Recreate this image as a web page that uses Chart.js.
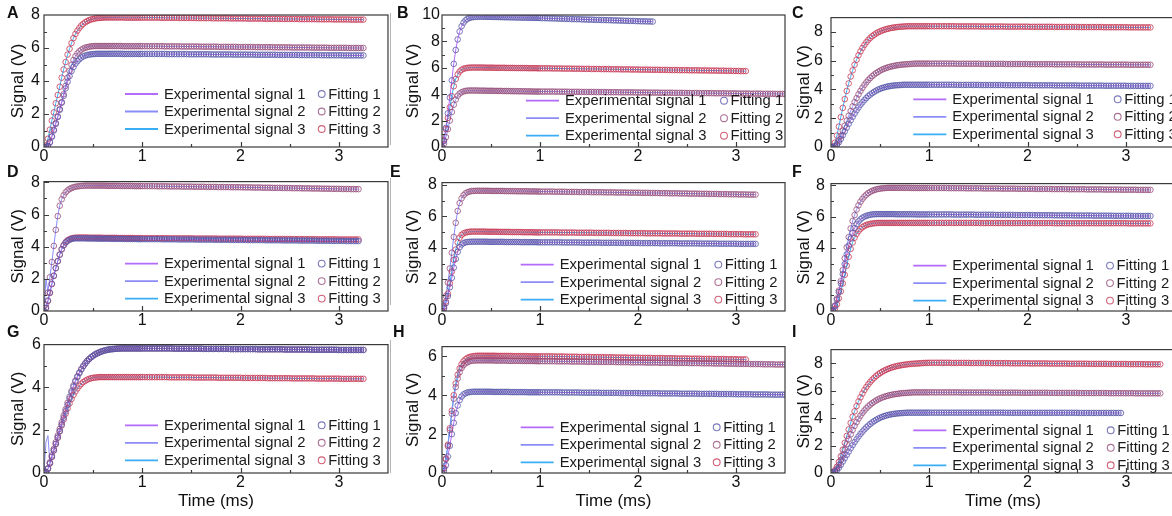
<!DOCTYPE html>
<html><head><meta charset="utf-8">
<script src="https://cdn.jsdelivr.net/npm/chart.js@4.4.0/dist/chart.umd.min.js"></script>
<style>
html,body{margin:0;padding:0;background:#fff;}
body{width:1172px;height:516px;overflow:hidden;position:relative;font-family:"Liberation Sans",Arial,sans-serif;}
.panel{position:absolute;}
.lbl{position:absolute;font-weight:bold;font-size:16px;line-height:16px;color:#111;}
.sep{position:absolute;width:1px;background:#b4b4b4;}
</style></head><body>
<script>
// ---------- shared time axis (ms) ----------
const TIME_MS = [
0,0.02,0.04,0.06,0.08,0.1,0.12,0.14,0.16,0.18,
0.2,0.22,0.24,0.26,0.28,0.3,0.32,0.34,0.36,0.38,
0.4,0.42,0.44,0.46,0.48,0.5,0.52,0.54,0.56,0.58,
0.6,0.62,0.64,0.66,0.68,0.7,0.72,0.74,0.76,0.78,
0.8,0.82,0.84,0.86,0.88,0.9,0.92,0.94,0.96,0.98,
1,
1.025,1.05,1.075,1.1,1.125,1.15,1.175,1.2,1.225,1.25,
1.275,1.3,1.325,1.35,1.375,1.4,1.425,1.45,1.475,1.5,
1.525,1.55,1.575,1.6,1.625,1.65,1.675,1.7,1.725,1.75,
1.775,1.8,1.825,1.85,1.875,1.9,1.925,1.95,1.975,2,
2.025,2.05,2.075,2.1,2.125,2.15,2.175,2.2,2.225,2.25,
2.275,2.3,2.325,2.35,2.375,2.4,2.425,2.45,2.475,2.5,
2.525,2.55,2.575,2.6,2.625,2.65,2.675,2.7,2.725,2.75,
2.775,2.8,2.825,2.85,2.875,2.9,2.925,2.95,2.975,3,
3.025,3.05,3.075,3.1,3.125,3.15,3.175,3.2,3.225,3.25,
3.275,3.3,3.325,3.35,3.375,3.4,3.425,3.45,3.475,3.5];

// ---------- Panel A ----------
const A_S1 = [
0,0,0.06,0.28,0.62,1.0,1.4,1.82,2.25,2.68,
3.1,3.55,3.95,4.3,4.6,4.85,5.05,5.2,5.32,5.42,
5.49,5.54,5.58,5.6,5.62,5.63,5.64,5.65,5.65,5.65,
5.65,5.65,5.65,5.65,5.65,5.65,5.65,5.65,5.65,5.65,
5.64,5.64,5.64,5.64,5.64,5.64,5.64,5.64,5.64,5.64,
5.64,
5.64,5.64,5.64,5.64,5.64,5.64,5.64,5.64,5.64,
5.63,5.63,5.63,5.63,5.63,5.63,5.63,5.63,5.63,
5.62,5.62,5.62,5.62,5.62,5.62,5.62,5.62,5.62,
5.61,5.61,5.61,5.61,5.61,5.61,5.61,5.61,5.61,
5.6,5.6,5.6,5.6,5.6,5.6,5.6,5.6,5.6,
5.59,5.59,5.59,5.59,5.59,5.59,5.59,5.59,5.59,
5.58,5.58,5.58,5.58,5.58,5.58,5.58,5.58,5.58,
5.57,5.57,5.57,5.57,5.57,5.57,5.57,5.57,5.57,
5.56,5.56,5.56,5.56,5.56,5.56,5.56,5.56,5.56,
5.55,5.55,5.55,5.55,5.55,5.55,5.55,5.55,5.55];
const A_S2 = [
0,0,0.08,0.3,0.65,1.05,1.45,1.85,2.3,2.72,
3.2,3.7,4.2,4.62,4.98,5.27,5.5,5.67,5.8,5.9,
5.97,6.02,6.05,6.08,6.1,6.11,6.12,6.12,6.12,6.12,
6.12,6.12,6.12,6.12,6.12,6.12,6.12,6.12,6.12,6.12,
6.11,6.11,6.11,6.11,6.11,6.11,6.11,6.11,6.11,6.11,
6.11,
6.11,6.11,6.11,6.11,6.11,6.11,6.11,6.11,
6.1,6.1,6.1,6.1,6.1,6.1,6.1,
6.09,6.09,6.09,6.09,6.09,6.09,6.09,6.09,
6.08,6.08,6.08,6.08,6.08,6.08,6.08,
6.07,6.07,6.07,6.07,6.07,6.07,6.07,6.07,
6.06,6.06,6.06,6.06,6.06,6.06,6.06,
6.05,6.05,6.05,6.05,6.05,6.05,6.05,6.05,
6.04,6.04,6.04,6.04,6.04,6.04,6.04,
6.03,6.03,6.03,6.03,6.03,6.03,6.03,6.03,
6.02,6.02,6.02,6.02,6.02,6.02,6.02,
6.01,6.01,6.01,6.01,6.01,6.01,6.01,6.01,
6.0,6.0,6.0,6.0,6.0,6.0,6.0];
const A_S3 = [
0,0.1,0.5,1.05,1.6,2.1,2.65,3.15,3.65,4.2,
4.7,5.15,5.6,5.95,6.3,6.6,6.85,7.05,7.22,7.36,
7.47,7.56,7.63,7.69,7.73,7.76,7.79,7.81,7.82,7.83,
7.84,7.85,7.85,7.85,7.85,7.85,7.85,7.85,7.85,7.85,
7.85,7.85,7.84,7.84,7.84,7.84,7.84,7.84,7.84,7.84,
7.84,
7.84,7.84,7.84,7.84,7.84,7.84,7.84,
7.83,7.83,7.83,7.83,7.83,7.83,7.83,
7.82,7.82,7.82,7.82,7.82,7.82,7.82,
7.81,7.81,7.81,7.81,7.81,7.81,7.81,
7.8,7.8,7.8,7.8,7.8,7.8,7.8,
7.79,7.79,7.79,7.79,7.79,7.79,7.79,
7.78,7.78,7.78,7.78,7.78,7.78,7.78,
7.77,7.77,7.77,7.77,7.77,7.77,7.77,
7.76,7.76,7.76,7.76,7.76,7.76,7.76,
7.75,7.75,7.75,7.75,7.75,7.75,7.75,
7.74,7.74,7.74,7.74,7.74,7.74,7.74,
7.73,7.73,7.73,7.73,7.73,7.73,7.73,
7.72,7.72,7.72,7.72,7.72,7.72];

// ---------- Panel B ----------
const B_S1 = [
0,0.45,1.45,2.55,3.75,5.05,6.3,7.35,8.15,8.75,
9.15,9.42,9.6,9.71,9.78,9.82,9.84,9.86,9.87,9.87,
9.87,9.87,9.87,9.86,9.86,9.86,9.85,9.85,9.85,9.84,
9.84,9.84,9.83,9.83,9.83,9.82,9.82,9.82,9.81,9.81,
9.81,9.8,9.8,9.8,9.79,9.79,9.79,9.78,9.78,9.78,
9.77,
9.76,9.76,9.75,9.75,9.74,9.74,9.73,9.72,9.72,9.71,
9.7,9.7,9.69,9.69,9.68,9.68,9.67,9.66,9.66,9.65,
9.65,9.64,9.63,9.63,9.62,9.62,9.61,9.61,9.6,9.59,
9.59,9.58,9.58,9.57,9.56,9.56,9.55,9.55,9.54,9.53,
9.53,9.52,9.52,9.51,9.51,9.5];
const B_S2 = [
0,0.25,0.75,1.35,2.0,2.65,3.2,3.6,3.88,4.05,
4.15,4.21,4.25,4.27,4.28,4.28,4.28,4.28,4.28,4.27,
4.27,4.27,4.27,4.26,4.26,4.26,4.26,4.25,4.25,4.25,
4.25,4.24,4.24,4.24,4.24,4.23,4.23,4.23,4.23,4.22,
4.22,4.22,4.22,4.21,4.21,4.21,4.21,4.2,4.2,4.2,
4.2,
4.2,4.2,4.2,4.2,4.2,4.2,
4.19,4.19,4.19,4.19,4.19,
4.18,4.18,4.18,4.18,4.18,
4.17,4.17,4.17,4.17,4.17,4.17,
4.16,4.16,4.16,4.16,4.16,
4.15,4.15,4.15,4.15,4.15,
4.14,4.14,4.14,4.14,4.14,4.14,
4.13,4.13,4.13,4.13,4.13,
4.12,4.12,4.12,4.12,4.12,
4.11,4.11,4.11,4.11,4.11,4.11,
4.1,4.1,4.1,4.1,4.1,
4.09,4.09,4.09,4.09,4.09,
4.08,4.08,4.08,4.08,4.08,4.08,
4.07,4.07,4.07,4.07,4.07,
4.06,4.06,4.06,4.06,4.06,
4.05,4.05,4.05,4.05,4.05,
4.04,4.04,4.04,4.04,4.04,
4.03,4.03,4.03,4.03,4.03,
4.02,4.02,4.02,4.02,4.02];
const B_S3 = [
0,0.5,1.35,2.2,3.0,3.85,4.6,5.15,5.5,5.72,
5.85,5.93,5.97,6.0,6.01,6.02,6.02,6.02,6.02,6.02,
6.02,6.02,6.01,6.01,6.01,6.01,6.01,6.0,6.0,6.0,
6.0,6.0,6.0,5.99,5.99,5.99,5.99,5.99,5.98,5.98,
5.98,5.98,5.98,5.98,5.97,5.97,5.97,5.97,5.97,5.96,
5.96,
5.96,5.96,5.96,5.96,
5.95,5.95,5.95,5.95,
5.94,5.94,5.94,5.94,
5.93,5.93,5.93,5.93,
5.92,5.92,5.92,5.92,
5.91,5.91,5.91,5.91,
5.9,5.9,5.9,5.9,
5.89,5.89,5.89,5.89,
5.88,5.88,5.88,5.88,
5.87,5.87,5.87,5.87,
5.86,5.86,5.86,5.86,
5.85,5.85,5.85,5.85,
5.84,5.84,5.84,5.84,
5.83,5.83,5.83,5.83,
5.82,5.82,5.82,5.82,
5.81,5.81,5.81,5.81,
5.8,5.8,5.8,5.8,
5.79,5.79,5.79,5.79,
5.78,5.78,5.78,
5.77,5.77,5.77,
5.76,5.76,5.76,
5.75,5.75,5.75];

// ---------- Panel C ----------
const C_S1 = [
0,0,0.04,0.15,0.33,0.56,0.82,1.08,1.35,1.61,
1.86,2.1,2.33,2.55,2.75,2.94,3.11,3.27,3.41,3.54,
3.65,3.75,3.84,3.92,3.99,4.05,4.1,4.14,4.18,4.21,
4.24,4.26,4.28,4.29,4.3,4.31,4.32,4.33,4.33,4.33,
4.33,4.33,4.33,4.33,4.33,4.33,4.33,4.33,4.33,4.33,
4.33,
4.33,4.33,4.33,4.33,4.33,4.33,4.33,4.33,4.33,4.33,
4.32,4.32,4.32,4.32,4.32,4.32,4.32,4.32,4.32,4.32,
4.31,4.31,4.31,4.31,4.31,4.31,4.31,4.31,4.31,4.31,
4.3,4.3,4.3,4.3,4.3,4.3,4.3,4.3,4.3,4.3,
4.29,4.29,4.29,4.29,4.29,4.29,4.29,4.29,4.29,4.29,
4.28,4.28,4.28,4.28,4.28,4.28,4.28,4.28,4.28,4.28,
4.27,4.27,4.27,4.27,4.27,4.27,4.27,4.27,4.27,4.27,
4.26,4.26,4.26,4.26,4.26,4.26,4.26,4.26,4.26,4.26,
4.25,4.25,4.25,4.25,4.25,4.25,4.25,4.25,4.25,4.25];
const C_S2 = [
0,0,0.05,0.2,0.45,0.77,1.12,1.48,1.83,2.17,
2.5,2.82,3.12,3.4,3.66,3.9,4.12,4.32,4.5,4.66,
4.8,4.93,5.04,5.14,5.23,5.31,5.38,5.44,5.49,5.54,
5.58,5.61,5.64,5.67,5.69,5.71,5.73,5.74,5.75,5.76,
5.77,5.78,5.79,5.8,5.8,5.8,5.8,5.8,5.8,5.8,
5.8,
5.8,5.8,5.8,5.8,5.8,5.8,5.8,5.8,5.8,5.8,
5.79,5.79,5.79,5.79,5.79,5.79,5.79,5.79,5.79,5.79,
5.78,5.78,5.78,5.78,5.78,5.78,5.78,5.78,5.78,5.78,
5.77,5.77,5.77,5.77,5.77,5.77,5.77,5.77,5.77,5.77,
5.76,5.76,5.76,5.76,5.76,5.76,5.76,5.76,5.76,5.76,
5.75,5.75,5.75,5.75,5.75,5.75,5.75,5.75,5.75,5.75,
5.74,5.74,5.74,5.74,5.74,5.74,5.74,5.74,5.74,5.74,
5.73,5.73,5.73,5.73,5.73,5.73,5.73,5.73,5.73,5.73,
5.72,5.72,5.72,5.72,5.72,5.72,5.72,5.72,5.72,5.72];
const C_S3 = [
0,0,0.3,0.8,1.42,2.08,2.72,3.33,3.9,4.42,
4.9,5.33,5.72,6.07,6.38,6.65,6.89,7.1,7.29,7.45,
7.59,7.71,7.81,7.9,7.98,8.04,8.1,8.15,8.19,8.23,
8.26,8.29,8.31,8.33,8.35,8.36,8.37,8.38,8.39,8.4,
8.4,8.4,8.4,8.4,8.4,8.4,8.4,8.4,8.4,8.4,
8.4,
8.4,8.4,8.4,8.4,8.4,8.4,8.4,8.4,8.4,8.4,
8.39,8.39,8.39,8.39,8.39,8.39,8.39,8.39,8.39,8.39,
8.38,8.38,8.38,8.38,8.38,8.38,8.38,8.38,8.38,8.38,
8.37,8.37,8.37,8.37,8.37,8.37,8.37,8.37,8.37,8.37,
8.36,8.36,8.36,8.36,8.36,8.36,8.36,8.36,8.36,8.36,
8.35,8.35,8.35,8.35,8.35,8.35,8.35,8.35,8.35,8.35,
8.34,8.34,8.34,8.34,8.34,8.34,8.34,8.34,8.34,8.34,
8.33,8.33,8.33,8.33,8.33,8.33,8.33,8.33,8.33,8.33,
8.32,8.32,8.32,8.32,8.32,8.32,8.32,8.32,8.32,8.32];

// ---------- Panel D ----------
const D_S1 = [
0,0.2,0.65,1.15,1.7,2.2,2.67,3.1,3.5,3.83,
4.08,4.25,4.36,4.43,4.48,4.51,4.52,4.52,4.52,4.52,
4.52,4.52,4.51,4.51,4.51,4.51,4.51,4.5,4.5,4.5,
4.5,4.5,4.5,4.5,4.49,4.49,4.49,4.49,4.49,4.49,
4.49,4.48,4.48,4.48,4.48,4.48,4.48,4.48,4.47,4.47,
4.47,
4.47,4.47,4.47,4.47,4.47,4.47,4.47,
4.46,4.46,4.46,4.46,4.46,4.46,4.46,
4.45,4.45,4.45,4.45,4.45,4.45,4.45,
4.44,4.44,4.44,4.44,4.44,4.44,4.44,
4.43,4.43,4.43,4.43,4.43,4.43,4.43,
4.42,4.42,4.42,4.42,4.42,4.42,4.42,
4.41,4.41,4.41,4.41,4.41,4.41,4.41,
4.4,4.4,4.4,4.4,4.4,4.4,4.4,
4.39,4.39,4.39,4.39,4.39,4.39,4.39,
4.38,4.38,4.38,4.38,4.38,4.38,4.38,
4.37,4.37,4.37,4.37,4.37,4.37,
4.36,4.36,4.36,4.36,4.36,4.36,
4.35,4.35,4.35,4.35,4.35,4.35];
const D_S2 = [
0,0.4,1.15,2.1,3.05,4.05,5.05,5.9,6.55,6.95,
7.2,7.38,7.5,7.59,7.65,7.7,7.73,7.75,7.77,7.78,
7.79,7.8,7.8,7.8,7.8,7.8,7.8,7.8,7.8,7.8,
7.8,7.8,7.79,7.79,7.79,7.79,7.79,7.79,7.79,7.78,
7.78,7.78,7.78,7.78,7.78,7.78,7.77,7.77,7.77,7.77,
7.77,
7.77,7.77,7.77,7.77,7.77,
7.76,7.76,7.76,7.76,7.76,
7.75,7.75,7.75,7.75,7.75,
7.74,7.74,7.74,7.74,7.74,
7.73,7.73,7.73,7.73,7.73,
7.72,7.72,7.72,7.72,7.72,
7.71,7.71,7.71,7.71,7.71,
7.7,7.7,7.7,7.7,7.7,
7.69,7.69,7.69,7.69,
7.68,7.68,7.68,7.68,
7.67,7.67,7.67,7.67,
7.66,7.66,7.66,7.66,
7.65,7.65,7.65,7.65,
7.64,7.64,7.64,7.64,
7.63,7.63,7.63,7.63,
7.62,7.62,7.62,7.62,
7.61,7.61,7.61,7.61,
7.6,7.6,7.6,7.6,
7.59,7.59,7.59,7.59,
7.58,7.58,7.58,7.58];
const D_S3 = [
0,0.18,0.62,1.12,1.67,2.18,2.66,3.1,3.51,3.85,
4.1,4.28,4.4,4.47,4.52,4.55,4.56,4.57,4.57,4.57,
4.57,4.57,4.57,4.56,4.56,4.56,4.56,4.56,4.56,4.56,
4.55,4.55,4.55,4.55,4.55,4.55,4.55,4.55,4.54,4.54,
4.54,4.54,4.54,4.54,4.54,4.54,4.53,4.53,4.53,4.53,
4.53,
4.53,4.53,4.53,4.53,4.53,4.53,4.53,4.53,4.53,4.53,
4.52,4.52,4.52,4.52,4.52,4.52,4.52,4.52,4.52,4.52,
4.51,4.51,4.51,4.51,4.51,4.51,4.51,4.51,4.51,4.51,
4.5,4.5,4.5,4.5,4.5,4.5,4.5,4.5,4.5,4.5,
4.49,4.49,4.49,4.49,4.49,4.49,4.49,4.49,4.49,4.49,
4.48,4.48,4.48,4.48,4.48,4.48,4.48,4.48,4.48,4.48,
4.47,4.47,4.47,4.47,4.47,4.47,4.47,4.47,4.47,4.47,
4.46,4.46,4.46,4.46,4.46,4.46,4.46,4.46,4.46,
4.45,4.45,4.45,4.45,4.45,4.45,4.45,4.45,4.45];
const D_EXP2_START = [0, 2.0, 1.2];

// ---------- Panel E ----------
const E_S1 = [
0,0.15,0.5,0.95,1.5,2.1,2.75,3.3,3.75,4.05,
4.22,4.31,4.36,4.38,4.39,4.4,4.4,4.4,4.4,4.4,
4.4,4.4,4.4,4.4,4.39,4.39,4.39,4.39,4.39,4.39,
4.39,4.39,4.38,4.38,4.38,4.38,4.38,4.38,4.38,4.38,
4.37,4.37,4.37,4.37,4.37,4.37,4.37,4.37,4.37,4.36,
4.36,
4.36,4.36,4.36,4.36,4.36,4.36,4.36,4.36,
4.35,4.35,4.35,4.35,4.35,4.35,4.35,4.35,
4.34,4.34,4.34,4.34,4.34,4.34,4.34,4.34,
4.33,4.33,4.33,4.33,4.33,4.33,4.33,4.33,
4.32,4.32,4.32,4.32,4.32,4.32,4.32,4.32,
4.31,4.31,4.31,4.31,4.31,4.31,4.31,4.31,
4.3,4.3,4.3,4.3,4.3,4.3,4.3,4.3,
4.29,4.29,4.29,4.29,4.29,4.29,4.29,4.29,
4.28,4.28,4.28,4.28,4.28,4.28,4.28,4.28,
4.27,4.27,4.27,4.27,4.27,4.27,4.27,4.27,
4.26,4.26,4.26,4.26,4.26,4.26,4.26,4.26];
const E_S2 = [
0,0.3,0.95,1.8,2.7,3.7,4.7,5.6,6.35,6.85,
7.15,7.35,7.47,7.54,7.58,7.61,7.62,7.63,7.63,7.63,
7.63,7.63,7.63,7.63,7.63,7.62,7.62,7.62,7.62,7.62,
7.62,7.62,7.61,7.61,7.61,7.61,7.61,7.61,7.6,7.6,
7.6,7.6,7.6,7.6,7.59,7.59,7.59,7.59,7.59,7.58,
7.58,
7.58,7.58,7.58,7.58,7.58,
7.57,7.57,7.57,7.57,7.57,
7.56,7.56,7.56,7.56,7.56,
7.55,7.55,7.55,7.55,7.55,
7.54,7.54,7.54,7.54,7.54,
7.53,7.53,7.53,7.53,7.53,
7.52,7.52,7.52,7.52,7.52,
7.51,7.51,7.51,7.51,7.51,
7.5,7.5,7.5,7.5,
7.49,7.49,7.49,7.49,
7.48,7.48,7.48,7.48,
7.47,7.47,7.47,7.47,
7.46,7.46,7.46,7.46,
7.45,7.45,7.45,7.45,
7.44,7.44,7.44,7.44,
7.43,7.43,7.43,7.43,
7.42,7.42,7.42,7.42,
7.41,7.41,7.41,7.41,
7.4,7.4,7.4,7.4,
7.39,7.39,7.39,7.39];
const E_S3 = [
0,0.2,0.6,1.1,1.75,2.5,3.25,3.9,4.35,4.65,
4.83,4.93,4.98,5.01,5.03,5.04,5.04,5.04,5.04,5.04,
5.04,5.04,5.04,5.03,5.03,5.03,5.03,5.03,5.03,5.02,
5.02,5.02,5.02,5.02,5.02,5.01,5.01,5.01,5.01,5.01,
5.01,5.0,5.0,5.0,5.0,5.0,5.0,4.99,4.99,4.99,
4.99,
4.99,4.99,4.99,4.99,4.99,4.99,4.99,
4.98,4.98,4.98,4.98,4.98,4.98,4.98,
4.97,4.97,4.97,4.97,4.97,4.97,4.97,
4.96,4.96,4.96,4.96,4.96,4.96,4.96,
4.95,4.95,4.95,4.95,4.95,4.95,4.95,
4.94,4.94,4.94,4.94,4.94,4.94,4.94,
4.93,4.93,4.93,4.93,4.93,4.93,4.93,
4.92,4.92,4.92,4.92,4.92,4.92,4.92,
4.91,4.91,4.91,4.91,4.91,4.91,4.91,
4.9,4.9,4.9,4.9,4.9,4.9,4.9,
4.89,4.89,4.89,4.89,4.89,4.89,
4.88,4.88,4.88,4.88,4.88,4.88,
4.87,4.87,4.87,4.87,4.87,4.87];

// ---------- Panel F ----------
const F_S1 = [
0,0.03,0.3,0.72,1.2,1.75,2.35,2.98,3.6,4.15,
4.6,4.98,5.28,5.52,5.7,5.83,5.93,6.0,6.05,6.09,
6.12,6.14,6.15,6.16,6.16,6.16,6.16,6.16,6.16,6.16,
6.16,6.16,6.16,6.15,6.15,6.15,6.15,6.15,6.15,6.15,
6.15,6.15,6.15,6.14,6.14,6.14,6.14,6.14,6.14,6.14,
6.14,
6.14,6.14,6.14,6.14,6.14,6.14,6.14,6.14,6.14,
6.13,6.13,6.13,6.13,6.13,6.13,6.13,6.13,6.13,
6.12,6.12,6.12,6.12,6.12,6.12,6.12,6.12,
6.11,6.11,6.11,6.11,6.11,6.11,6.11,6.11,
6.1,6.1,6.1,6.1,6.1,6.1,6.1,6.1,
6.09,6.09,6.09,6.09,6.09,6.09,6.09,6.09,
6.08,6.08,6.08,6.08,6.08,6.08,6.08,6.08,
6.07,6.07,6.07,6.07,6.07,6.07,6.07,6.07,
6.06,6.06,6.06,6.06,6.06,6.06,6.06,6.06,
6.05,6.05,6.05,6.05,6.05,6.05,6.05,6.05,
6.04,6.04,6.04,6.04,6.04,6.04,6.04,6.04];
const F_S2 = [
0,0.05,0.35,0.8,1.3,1.9,2.6,3.35,4.05,4.7,
5.25,5.72,6.1,6.45,6.72,6.95,7.13,7.28,7.4,7.5,
7.58,7.64,7.69,7.73,7.76,7.78,7.8,7.81,7.82,7.83,
7.83,7.83,7.83,7.83,7.83,7.83,7.83,7.83,7.83,7.83,
7.83,7.82,7.82,7.82,7.82,7.82,7.82,7.82,7.82,7.82,
7.82,
7.82,7.82,7.82,7.82,7.82,7.82,7.82,
7.81,7.81,7.81,7.81,7.81,7.81,7.81,
7.8,7.8,7.8,7.8,7.8,7.8,7.8,
7.79,7.79,7.79,7.79,7.79,7.79,7.79,
7.78,7.78,7.78,7.78,7.78,7.78,7.78,
7.77,7.77,7.77,7.77,7.77,7.77,7.77,
7.76,7.76,7.76,7.76,7.76,7.76,7.76,
7.75,7.75,7.75,7.75,7.75,7.75,7.75,
7.74,7.74,7.74,7.74,7.74,7.74,7.74,
7.73,7.73,7.73,7.73,7.73,7.73,7.73,
7.72,7.72,7.72,7.72,7.72,7.72,7.72,
7.71,7.71,7.71,7.71,7.71,7.71,7.71,
7.7,7.7,7.7,7.7,7.7,7.7];
const F_S3 = [
0,0,0.15,0.42,0.8,1.25,1.75,2.3,2.88,3.45,
3.95,4.35,4.66,4.9,5.08,5.22,5.33,5.41,5.47,5.51,
5.54,5.56,5.58,5.59,5.6,5.6,5.6,5.6,5.6,5.6,
5.6,5.6,5.6,5.6,5.6,5.6,5.6,5.6,5.6,5.6,
5.6,5.6,5.6,5.6,5.6,5.6,5.6,5.6,5.6,5.6,
5.6,
5.6,5.6,5.6,5.6,5.6,5.6,5.6,5.6,5.6,5.6,
5.6,5.6,5.6,5.6,5.6,5.6,5.6,5.6,5.6,5.6,
5.59,5.59,5.59,5.59,5.59,5.59,5.59,5.59,5.59,5.59,
5.59,5.59,5.59,5.59,5.59,5.59,5.59,5.59,5.59,5.59,
5.59,5.59,5.59,5.59,5.59,5.59,5.59,5.59,5.59,5.59,
5.58,5.58,5.58,5.58,5.58,5.58,5.58,5.58,5.58,5.58,
5.58,5.58,5.58,5.58,5.58,5.58,5.58,5.58,5.58,5.58,
5.58,5.58,5.58,5.58,5.58,5.58,5.58,5.58,5.58,5.58,
5.57,5.57,5.57,5.57,5.57,5.57,5.57,5.57,5.57,5.57];

// ---------- Panel G ----------
const G_S1 = [
0,0.05,0.2,0.45,0.76,1.06,1.36,1.66,1.96,2.27,
2.58,2.88,3.18,3.48,3.76,4.03,4.27,4.48,4.67,4.84,
4.99,5.12,5.23,5.33,5.41,5.48,5.54,5.59,5.63,5.67,
5.7,5.73,5.75,5.77,5.78,5.79,5.8,5.81,5.81,5.82,
5.82,5.82,5.82,5.82,5.82,5.82,5.82,5.82,5.82,5.82,
5.82,
5.82,5.82,5.82,5.82,5.82,5.82,5.82,5.82,5.82,5.82,5.82,5.82,
5.81,5.81,5.81,5.81,5.81,5.81,5.81,5.81,5.81,5.81,5.81,5.81,
5.8,5.8,5.8,5.8,5.8,5.8,5.8,5.8,5.8,5.8,5.8,
5.79,5.79,5.79,5.79,5.79,5.79,5.79,5.79,5.79,5.79,5.79,
5.78,5.78,5.78,5.78,5.78,5.78,5.78,5.78,5.78,5.78,5.78,
5.77,5.77,5.77,5.77,5.77,5.77,5.77,5.77,5.77,5.77,5.77,
5.76,5.76,5.76,5.76,5.76,5.76,5.76,5.76,5.76,5.76,5.76,
5.75,5.75,5.75,5.75,5.75,5.75,5.75,5.75,5.75,5.75,5.75];
const G_S2 = [
0,0.05,0.22,0.5,0.82,1.13,1.44,1.75,2.06,2.37,
2.68,2.98,3.28,3.56,3.83,4.09,4.32,4.52,4.7,4.86,
5.0,5.13,5.24,5.33,5.41,5.48,5.54,5.59,5.63,5.67,
5.7,5.73,5.75,5.77,5.78,5.79,5.8,5.81,5.81,5.82,
5.82,5.82,5.82,5.82,5.82,5.82,5.82,5.82,5.82,5.82,
5.82,
5.82,5.82,5.82,5.82,5.82,5.82,5.82,5.82,5.82,5.82,5.82,5.82,
5.81,5.81,5.81,5.81,5.81,5.81,5.81,5.81,5.81,5.81,5.81,5.81,
5.8,5.8,5.8,5.8,5.8,5.8,5.8,5.8,5.8,5.8,5.8,
5.79,5.79,5.79,5.79,5.79,5.79,5.79,5.79,5.79,5.79,5.79,
5.78,5.78,5.78,5.78,5.78,5.78,5.78,5.78,5.78,5.78,5.78,
5.77,5.77,5.77,5.77,5.77,5.77,5.77,5.77,5.77,5.77,5.77,
5.76,5.76,5.76,5.76,5.76,5.76,5.76,5.76,5.76,5.76,5.76,
5.75,5.75,5.75,5.75,5.75,5.75,5.75,5.75,5.75,5.75,5.75];
const G_S3 = [
0,0.05,0.2,0.45,0.75,1.05,1.35,1.65,1.94,2.23,
2.5,2.77,3.02,3.25,3.46,3.65,3.81,3.95,4.07,4.17,
4.25,4.31,4.36,4.4,4.43,4.45,4.46,4.47,4.48,4.48,
4.48,4.48,4.48,4.48,4.48,4.48,4.48,4.48,4.48,4.48,
4.48,4.48,4.48,4.48,4.48,4.48,4.48,4.48,4.48,4.48,
4.48,
4.48,4.48,4.48,4.48,4.48,4.48,4.48,4.48,4.48,4.48,
4.47,4.47,4.47,4.47,4.47,4.47,4.47,4.47,4.47,4.47,
4.46,4.46,4.46,4.46,4.46,4.46,4.46,4.46,4.46,4.46,
4.45,4.45,4.45,4.45,4.45,4.45,4.45,4.45,4.45,4.45,
4.44,4.44,4.44,4.44,4.44,4.44,4.44,4.44,4.44,4.44,
4.43,4.43,4.43,4.43,4.43,4.43,4.43,4.43,4.43,4.43,
4.42,4.42,4.42,4.42,4.42,4.42,4.42,4.42,4.42,4.42,
4.41,4.41,4.41,4.41,4.41,4.41,4.41,4.41,4.41,4.41,
4.4,4.4,4.4,4.4,4.4,4.4,4.4,4.4,4.4,4.4];
const G_EXP2_START = [0, 1.45, 1.75];

// ---------- Panel H ----------
const H_S1 = [
0,0.1,0.4,0.85,1.4,2.0,2.58,3.08,3.47,3.75,
3.93,4.04,4.1,4.14,4.16,4.17,4.18,4.18,4.18,4.18,
4.18,4.18,4.18,4.18,4.18,4.18,4.17,4.17,4.17,4.17,
4.17,4.17,4.17,4.17,4.17,4.16,4.16,4.16,4.16,4.16,
4.16,4.16,4.16,4.16,4.15,4.15,4.15,4.15,4.15,4.15,
4.15,
4.15,4.15,4.15,4.15,4.15,4.15,4.15,4.15,
4.14,4.14,4.14,4.14,4.14,4.14,4.14,4.14,
4.13,4.13,4.13,4.13,4.13,4.13,4.13,4.13,
4.12,4.12,4.12,4.12,4.12,4.12,4.12,4.12,
4.11,4.11,4.11,4.11,4.11,4.11,4.11,4.11,
4.1,4.1,4.1,4.1,4.1,4.1,4.1,4.1,
4.09,4.09,4.09,4.09,4.09,4.09,4.09,4.09,
4.08,4.08,4.08,4.08,4.08,4.08,4.08,4.08,
4.07,4.07,4.07,4.07,4.07,4.07,4.07,4.07,
4.06,4.06,4.06,4.06,4.06,4.06,4.06,
4.05,4.05,4.05,4.05,4.05,4.05,4.05,
4.04,4.04,4.04,4.04,4.04,4.04,4.04,
4.03,4.03,4.03,4.03,4.03,4.03,4.03];
const H_S2 = [
0,0.22,0.7,1.38,2.2,3.05,3.82,4.42,4.86,5.18,
5.4,5.55,5.64,5.7,5.74,5.77,5.78,5.79,5.79,5.79,
5.79,5.79,5.79,5.79,5.79,5.79,5.79,5.78,5.78,5.78,
5.78,5.78,5.78,5.78,5.77,5.77,5.77,5.77,5.77,5.77,
5.77,5.76,5.76,5.76,5.76,5.76,5.76,5.76,5.75,5.75,
5.75,
5.75,5.75,5.75,5.75,5.75,5.75,
5.74,5.74,5.74,5.74,5.74,5.74,
5.73,5.73,5.73,5.73,5.73,5.73,
5.72,5.72,5.72,5.72,5.72,5.72,
5.71,5.71,5.71,5.71,5.71,5.71,
5.7,5.7,5.7,5.7,5.7,5.7,
5.69,5.69,5.69,5.69,5.69,5.69,
5.68,5.68,5.68,5.68,5.68,5.68,
5.67,5.67,5.67,5.67,5.67,5.67,
5.66,5.66,5.66,5.66,5.66,5.66,
5.65,5.65,5.65,5.65,5.65,
5.64,5.64,5.64,5.64,5.64,
5.63,5.63,5.63,5.63,5.63,
5.62,5.62,5.62,5.62,5.62,
5.61,5.61,5.61,5.61,5.61,
5.6,5.6,5.6,5.6,5.6,
5.59,5.59,5.59,5.59,5.59,
5.58,5.58,5.58,5.58,5.58];
const H_S3 = [
0,0.25,0.75,1.45,2.3,3.2,4.0,4.6,5.05,5.38,
5.6,5.75,5.85,5.92,5.96,5.99,6.01,6.02,6.03,6.03,
6.03,6.03,6.03,6.03,6.03,6.03,6.03,6.03,6.02,6.02,
6.02,6.02,6.02,6.02,6.02,6.02,6.01,6.01,6.01,6.01,
6.01,6.01,6.01,6.01,6.0,6.0,6.0,6.0,6.0,6.0,
6.0,
6.0,6.0,6.0,6.0,6.0,
5.99,5.99,5.99,5.99,5.99,
5.98,5.98,5.98,5.98,5.98,
5.97,5.97,5.97,5.97,5.97,
5.96,5.96,5.96,5.96,5.96,
5.95,5.95,5.95,5.95,5.95,
5.94,5.94,5.94,5.94,5.94,
5.93,5.93,5.93,5.93,5.93,
5.92,5.92,5.92,5.92,5.92,
5.91,5.91,5.91,5.91,5.91,
5.9,5.9,5.9,5.9,5.9,
5.89,5.89,5.89,5.89,5.89,
5.88,5.88,5.88,5.88,5.88,
5.87,5.87,5.87,5.87,5.87,
5.86,5.86,5.86,5.86,5.86,
5.85,5.85,5.85,5.85,5.85,
5.84,5.84,5.84,5.84];

// ---------- Panel I ----------
const I_S1 = [
0,0.02,0.08,0.2,0.38,0.6,0.84,1.08,1.32,1.56,
1.8,2.03,2.25,2.46,2.66,2.85,3.02,3.18,3.33,3.46,
3.58,3.69,3.79,3.88,3.96,4.03,4.09,4.14,4.19,4.23,
4.26,4.29,4.31,4.33,4.35,4.36,4.37,4.38,4.39,4.4,
4.4,4.4,4.4,4.4,4.4,4.4,4.4,4.4,4.4,4.4,
4.4,
4.4,4.4,4.4,4.4,4.4,4.4,4.4,4.4,4.4,4.4,
4.4,4.4,4.4,4.4,4.4,4.4,4.4,4.4,4.4,4.4,
4.4,4.4,4.4,4.4,4.4,4.4,4.4,4.4,4.4,4.4,
4.39,4.39,4.39,4.39,4.39,4.39,4.39,4.39,4.39,4.39,
4.39,4.39,4.39,4.39,4.39,4.39,4.39,4.39,4.39,4.39,
4.39,4.39,4.39,4.39,4.39,4.39,4.39,4.39,4.39,4.39,
4.38,4.38,4.38,4.38,4.38,4.38,4.38,4.38,4.38,4.38,
4.38,4.38,4.38,4.38,4.38,4.38,4.38,4.38];
const I_S2 = [
0,0.03,0.13,0.32,0.6,0.95,1.33,1.72,2.1,2.47,
2.82,3.14,3.44,3.71,3.96,4.18,4.38,4.56,4.72,4.86,
4.99,5.1,5.2,5.29,5.37,5.44,5.5,5.55,5.6,5.64,
5.68,5.71,5.74,5.76,5.78,5.8,5.82,5.83,5.84,5.85,
5.86,5.87,5.88,5.88,5.88,5.88,5.88,5.88,5.88,5.88,
5.88,
5.88,5.88,5.88,5.88,5.88,5.88,5.88,5.88,5.88,5.88,5.88,5.88,
5.87,5.87,5.87,5.87,5.87,5.87,5.87,5.87,5.87,5.87,5.87,5.87,
5.86,5.86,5.86,5.86,5.86,5.86,5.86,5.86,5.86,5.86,5.86,5.86,
5.85,5.85,5.85,5.85,5.85,5.85,5.85,5.85,5.85,5.85,5.85,5.85,
5.84,5.84,5.84,5.84,5.84,5.84,5.84,5.84,5.84,5.84,5.84,5.84,
5.83,5.83,5.83,5.83,5.83,5.83,5.83,5.83,5.83,5.83,5.83,5.83,
5.82,5.82,5.82,5.82,5.82,5.82,5.82,5.82,5.82,5.82,5.82,
5.81,5.81,5.81,5.81,5.81,5.81,5.81,5.81,5.81,5.81,5.81];
const I_S3 = [
0,0.05,0.2,0.45,0.8,1.22,1.7,2.2,2.7,3.18,
3.65,4.1,4.5,4.88,5.22,5.52,5.8,6.05,6.27,6.47,
6.65,6.81,6.95,7.08,7.19,7.29,7.38,7.46,7.53,7.59,
7.65,7.7,7.74,7.78,7.81,7.84,7.87,7.89,7.91,7.93,
7.95,7.96,7.97,7.98,7.99,8.0,8.01,8.02,8.03,8.03,
8.04,
8.04,8.04,8.04,8.04,8.04,8.04,8.04,8.04,
8.03,8.03,8.03,8.03,8.03,8.03,8.03,8.03,
8.02,8.02,8.02,8.02,8.02,8.02,8.02,8.02,
8.01,8.01,8.01,8.01,8.01,8.01,8.01,8.01,
8.0,8.0,8.0,8.0,8.0,8.0,8.0,8.0,
7.99,7.99,7.99,7.99,7.99,7.99,7.99,7.99,
7.98,7.98,7.98,7.98,7.98,7.98,7.98,7.98,
7.97,7.97,7.97,7.97,7.97,7.97,7.97,7.97,
7.96,7.96,7.96,7.96,7.96,7.96,7.96,7.96,
7.95,7.95,7.95,7.95,7.95,7.95,7.95,7.95,
7.94,7.94,7.94,7.94,7.94,7.94,7.94,
7.93,7.93,7.93,7.93,7.93,7.93,7.93];

// ---------- labels / axis settings ----------
const PANEL_IDS = ['A','B','C','D','E','F','G','H','I'];
const Y_MAX = [8, 10, 9, 8.05, 8.15, 8.1, 6, 6.5, 9];
const X_MAX = 3.5;
const X_TICKS_STEP = 1;
const Y_TICKS_STEP = 2;
const EXP_LABELS = ['Experimental signal 1','Experimental signal 2','Experimental signal 3'];
const FIT_LABELS = ['Fitting 1','Fitting 2','Fitting 3'];
const SERIES = {
  A:[A_S1,A_S2,A_S3], B:[B_S1,B_S2,B_S3], C:[C_S1,C_S2,C_S3],
  D:[D_S1,D_S2,D_S3], E:[E_S1,E_S2,E_S3], F:[F_S1,F_S2,F_S3],
  G:[G_S1,G_S2,G_S3], H:[H_S1,H_S2,H_S3], I:[I_S1,I_S2,I_S3]
};
const EXP_STARTS = { D:{1:D_EXP2_START}, G:{1:G_EXP2_START} };

// ---------- styles / layout ----------
const EXP_COLORS = ['#b36bfa','#8b8df7','#3aaef5'];
const FIT_COLORS = ['rgba(88,88,170,0.8)','rgba(150,78,122,0.8)','rgba(198,56,86,0.8)'];
const LAYOUT = {
  colLeft:[0,397,787], yAxisW:[44,45,44], padRight:[4,4,5], canvasW:393,
  rowTop:[0,168,332], rowH:[168,164,184], padTop:[15,9,9], xAxisH:[21,21,43],
  titlePad:[8,5.8,6.8],
  tickPad:[4,2,8,4,5,6,3,5,8],
  legend:[[81,277.7,79],[84,282,85.7],[82.3,286.7,81.7],[81,277.7,82],[78.7,276.3,82],[82.3,279,82],[81,277.7,80.7],[78.7,274.7,80.7],[82.3,279.7,80.7]],
  letter:[[7,5],[397,5],[792,5],[7,164],[390,164],[792,164],[7,324],[393,324],[792,324]]
};

Chart.defaults.font.family = '"Liberation Sans", Arial, sans-serif';
Chart.defaults.color = '#111';

const toPts = vals => vals.map((v, i) => ({x: TIME_MS[i], y: v}));

const framePlugin = {
  id: 'frameTicks',
  afterDatasetsDraw(chart) {
    const {ctx, chartArea: a, scales: {x, y}} = chart;
    ctx.save();
    ctx.strokeStyle = '#3a3a3a';
    ctx.lineWidth = 1.2;
    ctx.strokeRect(a.left, a.top, a.right - a.left, a.bottom - a.top);
    ctx.beginPath();
    for (let k = 1; k * X_TICKS_STEP / 2 < x.max - 1e-6; k++) {
      const v = k * X_TICKS_STEP / 2;
      const px = Math.round(x.getPixelForValue(v)) + 0.5;
      const len = (k % 2 === 0) ? 5 : 3;
      ctx.moveTo(px, a.bottom); ctx.lineTo(px, a.bottom - len);
    }
    for (let k = 1; k * Y_TICKS_STEP / 2 < y.max - 1e-6; k++) {
      const v = k * Y_TICKS_STEP / 2;
      const py = Math.round(y.getPixelForValue(v)) + 0.5;
      const len = (k % 2 === 0) ? 5 : 3;
      ctx.moveTo(a.left, py); ctx.lineTo(a.left + len, py);
    }
    ctx.stroke();
    ctx.restore();
  }
};

const legendPlugin = {
  id: 'insideLegend',
  afterDraw(chart, args, o) {
    const {ctx, chartArea: a} = chart;
    const ds = chart.data.datasets;
    ctx.save();
    ctx.font = '14.8px "Liberation Sans", Arial, sans-serif';
    ctx.textBaseline = 'middle';
    ctx.textAlign = 'left';
    for (let i = 0; i < 3; i++) {
      const yy = a.top + o.ry + i * 17.5;
      const x0 = a.left + o.lx;
      ctx.strokeStyle = ds[i].borderColor;
      ctx.lineWidth = 1.8;
      ctx.beginPath(); ctx.moveTo(x0, yy); ctx.lineTo(x0 + 33, yy); ctx.stroke();
      ctx.fillStyle = '#1a1a1a';
      ctx.fillText(ds[i].label, x0 + 39, yy + 0.5);
      const cx = a.left + o.cx;
      ctx.strokeStyle = ds[3 + i].pointBorderColor;
      ctx.lineWidth = 1.1;
      ctx.beginPath(); ctx.arc(cx, yy, 3.4, 0, 2 * Math.PI); ctx.stroke();
      ctx.fillText(ds[3 + i].label, cx + 6.5, yy + 0.5);
    }
    ctx.restore();
  }
};

// separator artefact lines (left of middle column)
[[13,145],[178,305],[340,473]].forEach(([t, b]) => {
  const d = document.createElement('div');
  d.className = 'sep';
  d.style.left = '390px'; d.style.top = t + 'px'; d.style.height = (b - t) + 'px';
  document.body.appendChild(d);
});

PANEL_IDS.forEach((id, p) => {
  const col = p % 3, row = Math.floor(p / 3);
  const w = LAYOUT.canvasW, h = LAYOUT.rowH[row];
  const div = document.createElement('div');
  div.className = 'panel';
  div.style.left = LAYOUT.colLeft[col] + 'px';
  div.style.top = LAYOUT.rowTop[row] + 'px';
  div.style.width = w + 'px'; div.style.height = h + 'px';
  const cv = document.createElement('canvas');
  cv.width = w; cv.height = h; cv.style.width = w + 'px'; cv.style.height = h + 'px';
  div.appendChild(cv);
  document.body.appendChild(div);

  const lb = document.createElement('div');
  lb.className = 'lbl';
  lb.textContent = id;
  lb.style.left = LAYOUT.letter[p][0] + 'px';
  lb.style.top = LAYOUT.letter[p][1] + 'px';
  document.body.appendChild(lb);

  const vals = SERIES[id];
  const datasets = [];
  for (let i = 0; i < 3; i++) {
    let ev = vals[i];
    const st = EXP_STARTS[id] && EXP_STARTS[id][i];
    if (st) ev = st.concat(vals[i].slice(st.length));
    datasets.push({
      label: EXP_LABELS[i], data: toPts(ev), borderColor: EXP_COLORS[i],
      borderWidth: 1, pointRadius: 0, fill: false, order: 1
    });
  }
  for (let i = 0; i < 3; i++) {
    datasets.push({
      label: FIT_LABELS[i], data: toPts(vals[i]), showLine: false,
      borderColor: FIT_COLORS[i], backgroundColor: 'rgba(0,0,0,0)',
      pointBorderColor: FIT_COLORS[i], pointBackgroundColor: 'rgba(0,0,0,0)',
      pointRadius: 2.8, pointBorderWidth: 1, pointStyle: 'circle', order: 0
    });
  }
  const yw = LAYOUT.yAxisW[col], xh = LAYOUT.xAxisH[row];
  const lg = LAYOUT.legend[p];
  new Chart(cv, {
    type: 'line',
    data: { datasets },
    options: {
      responsive: false, animation: false, devicePixelRatio: 1, events: [],
      parsing: false, normalized: true,
      layout: { padding: { top: LAYOUT.padTop[row], right: LAYOUT.padRight[col], left: 0, bottom: 0 } },
      plugins: {
        legend: { display: false }, tooltip: { enabled: false },
        insideLegend: { lx: lg[0], cx: lg[1], ry: lg[2] }
      },
      scales: {
        x: {
          type: 'linear', min: 0, max: X_MAX,
          ticks: { stepSize: X_TICKS_STEP, includeBounds: false, padding: 0, font: { size: 16 }, color: '#111', maxRotation: 0, autoSkip: false },
          grid: { display: false, drawTicks: false },
          border: { display: false },
          title: { display: row === 2, text: 'Time (ms)', font: { size: 17 }, color: '#111', padding: { top: 0, bottom: 4 } },
          afterFit: s => { s.height = xh; }
        },
        y: {
          type: 'linear', min: 0, max: Y_MAX[p],
          ticks: { stepSize: Y_TICKS_STEP, includeBounds: false, padding: LAYOUT.tickPad[p], font: { size: 16 }, color: '#111' },
          grid: { display: false, drawTicks: false },
          border: { display: false },
          title: { display: true, text: 'Signal (V)', font: { size: 17 }, color: '#111', padding: { top: LAYOUT.titlePad[col], bottom: 0 } },
          afterFit: s => { s.width = yw; }
        }
      }
    },
    plugins: [framePlugin, legendPlugin]
  });
});
</script>
</body></html>
